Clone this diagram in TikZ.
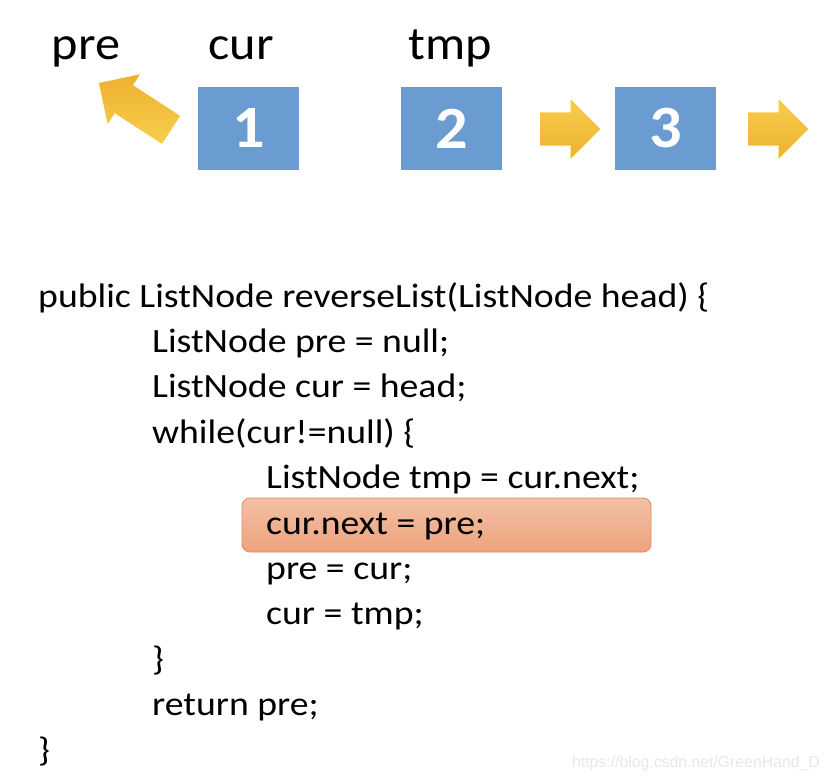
\documentclass[tikz,border=0pt]{standalone}
\usepackage{fontspec}
\setmainfont{Carlito}
\newfontfamily\codefont[FakeStretch=1.11]{Carlito}
\newfontfamily\labelfont[FakeStretch=1.07]{Carlito}
\newfontfamily\wmfont{Liberation Sans}
\usetikzlibrary{positioning, shapes.arrows}
\definecolor{cblue}{HTML}{6A9BD1}
\definecolor{cyellowA}{HTML}{F7CE4E}
\definecolor{cyellowB}{HTML}{EEB12E}
\definecolor{chlA}{HTML}{F3C0A6}
\definecolor{chlB}{HTML}{EDA27C}
\definecolor{chlline}{HTML}{E5875A}
\tikzset{
  every picture/.style={x=1pt, y=-1pt},
  cell/.style={fill=cblue, minimum width=101pt, minimum height=83pt, inner sep=0pt,
    text=white, font=\labelfont\fontsize{60}{64}\selectfont\bfseries},
  varlabel/.style={anchor=base, font=\labelfont\fontsize{47}{50}\selectfont},
  blockarrow/.style={single arrow, inner xsep=0pt, inner ysep=16.5pt, minimum height=#1,
    single arrow head extend=13pt, single arrow head indent=0pt},
  blockarrow/.default=60pt,
  codeline/.style={anchor=base west, inner sep=0pt, font=\codefont\fontsize{34}{38}\selectfont},
  highlight/.style={draw=chlline, line width=0.8pt, top color=chlA, bottom color=chlB,
    rounded corners=8pt, minimum width=409pt, minimum height=54pt},
}
\begin{document}
\begin{tikzpicture}
  \useasboundingbox[fill=white] (0,0) rectangle (830,780);
  % list cells
  \node[cell] (n1) at (248.5,128.5) {1};
  \node[cell] (n2) at (451.5,128.5) {2};
  \node[cell] (n3) at (665.5,128.5) {3};
  % pointers
  \node[varlabel] (pre) at (86,59) {pre};
  \node[varlabel] (cur) at (241,59) {cur};
  \node[varlabel] (tmp) at (450,59) {tmp};
  % next arrows
  \node[blockarrow=86pt, rotate=147, top color=cyellowB, bottom color=cyellowA] (a1) at (142,111) {};
  \node[blockarrow, top color=cyellowA, bottom color=cyellowB] (a2) at (562,129) {};
  \node[blockarrow, top color=cyellowA, bottom color=cyellowB] (a3) at (770,129) {};
  % code
  \node[highlight] (hl) at (446.5,525) {};
  \foreach \ind/\txt [count=\i from 0] in {
      38/public ListNode reverseList(ListNode head) \{,
      152/ListNode pre = null;,
      152/ListNode cur = head;,
      152/while(cur!=null) \{,
      266/ListNode tmp = cur.next;,
      266/cur.next = pre;,
      266/pre = cur;,
      266/cur = tmp;,
      152/\},
      152/return pre;,
      38/\}}
    \node[codeline] (l\i) at (\ind,307+45.4*\i) {\txt};
  \node[anchor=base east, inner sep=0pt, text=black!9, font=\wmfont\fontsize{15.8}{18}\selectfont] (wm) at (820,767) {https://blog.csdn.net/GreenHand\_D};
\end{tikzpicture}
\end{document}
